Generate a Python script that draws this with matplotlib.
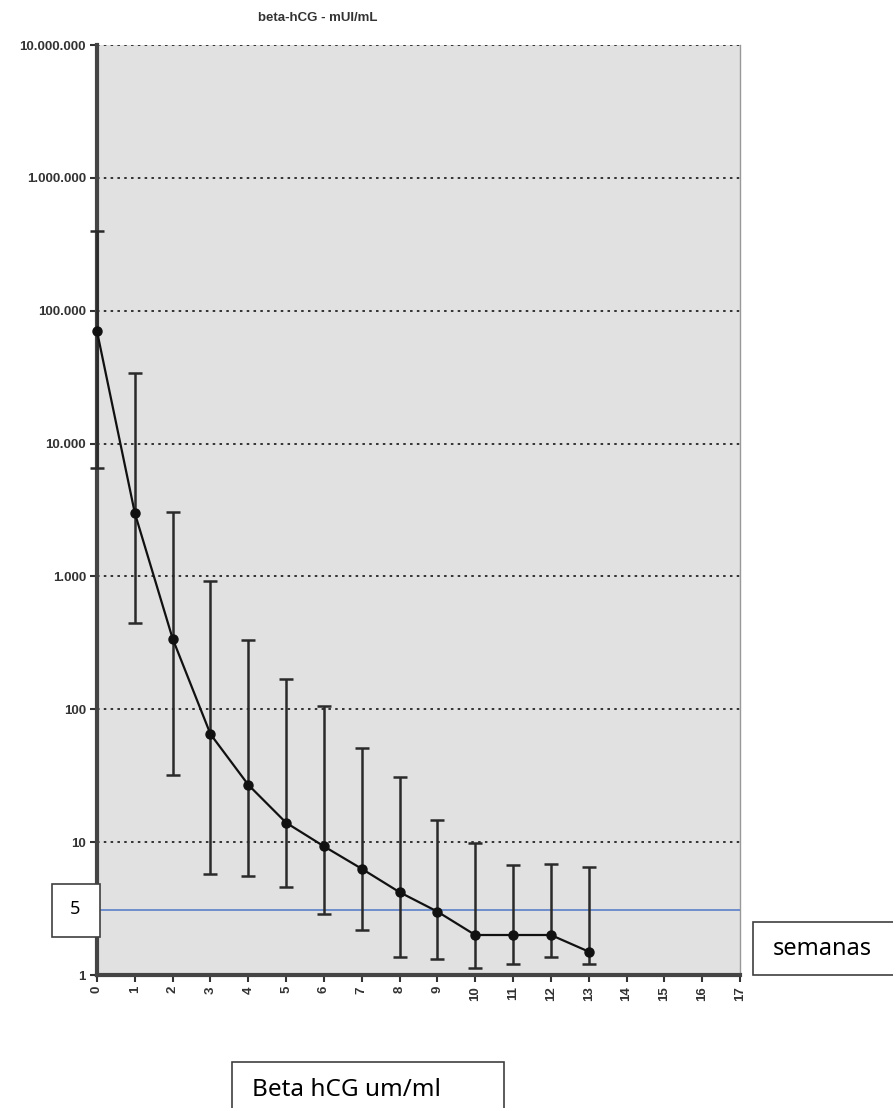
import matplotlib
matplotlib.use("Agg")
import matplotlib.pyplot as plt
from matplotlib.patches import Rectangle
from matplotlib.ticker import FuncFormatter, FixedLocator, NullLocator

# weeks after treatment
weeks = list(range(14))
# mean beta-hCG (mUI/mL)
mean_hcg = [70000, 3000, 340, 65, 27, 14, 9.3, 6.3, 4.2, 3.0, 2.0, 2.0, 2.0, 1.5]
upper_hcg = [400000, 34000, 3040, 920, 330, 170, 105, 51, 31, 14.6, 9.9, 6.7, 6.8, 6.5]
lower_hcg = [6500, 445, 32, 5.8, 5.6, 4.6, 2.9, 2.2, 1.37, 1.31, 1.12, 1.22, 1.37, 1.2]

y_ticks = [1, 10, 100, 1000, 10000, 100000, 1000000, 10000000]
x_ticks = list(range(18))
ref_level = 3.1  # blue reference line (labelled "5")

W, H = 893, 1108
fig = plt.figure(figsize=(W / 100, H / 100), dpi=100)
fig.patch.set_facecolor("white")

ax = fig.add_axes([97 / W, 1 - 975 / H, (740 - 97) / W, 930 / H])
ax.set_facecolor("#e1e1e1")
ax.set_yscale("log")
ax.set_ylim(1, 1e7)
ax.set_xlim(0, 17)

for v in y_ticks[1:]:
    ax.axhline(v, color="#333333", lw=1.4, ls=(0, (1.3, 2.2)), zorder=1)

err_lo = [m - l for m, l in zip(mean_hcg, lower_hcg)]
err_hi = [u - m for m, u in zip(mean_hcg, upper_hcg)]
ax.errorbar(weeks, mean_hcg, yerr=[err_lo, err_hi], fmt="-o", color="#111111",
            ecolor="#2a2a2a", elinewidth=1.8, capsize=5, capthick=1.8,
            lw=1.6, ms=6.5, zorder=4, clip_on=False)

ax.axhline(ref_level, color="#5b7fc7", lw=1.2, zorder=3)

ax.yaxis.set_major_locator(FixedLocator(y_ticks))
ax.yaxis.set_minor_locator(NullLocator())
ax.yaxis.set_major_formatter(FuncFormatter(lambda v, p: f"{int(round(v)):,}".replace(",", ".")))
ax.set_xticks(x_ticks)
ax.set_xticklabels([str(i) for i in x_ticks], rotation=90)

for lab in ax.get_yticklabels() + ax.get_xticklabels():
    lab.set_fontsize(9.5)
    lab.set_fontweight("bold")
    lab.set_color("#333333")
    lab.set_family("Liberation Sans")

ax.tick_params(axis="both", direction="out", length=5, width=1.5, color="#333333", pad=3)

ax.spines["top"].set_visible(False)
ax.spines["right"].set_color("#999999")
ax.spines["right"].set_linewidth(1.0)
ax.spines["left"].set_color("#444444")
ax.spines["left"].set_linewidth(3)
ax.spines["bottom"].set_color("#444444")
ax.spines["bottom"].set_linewidth(3)

fig.text(318 / W, 1 - 18 / H, "beta-hCG - mUI/mL", ha="center", va="center",
         fontsize=9.5, fontweight="bold", family="Liberation Sans", color="#333333")

# text boxes
def box(x0, y0, x1, y1, text, tx, ty, size):
    r = Rectangle((x0 / W, 1 - y1 / H), (x1 - x0) / W, (y1 - y0) / H,
                  transform=fig.transFigure, facecolor="white", edgecolor="#404040",
                  lw=1.2, zorder=10)
    fig.add_artist(r)
    fig.text(tx / W, 1 - ty / H, text, ha="left", va="center", fontsize=size,
             family="Noto Sans", color="black", zorder=11)

box(52, 884, 100, 937, "5", 70, 909, 13)
box(753, 922, 896, 975, "semanas", 773, 949, 17)
box(232, 1062, 504, 1112, "Beta hCG um/ml", 252, 1090, 17.5)

fig.savefig("out.png", dpi=100)
